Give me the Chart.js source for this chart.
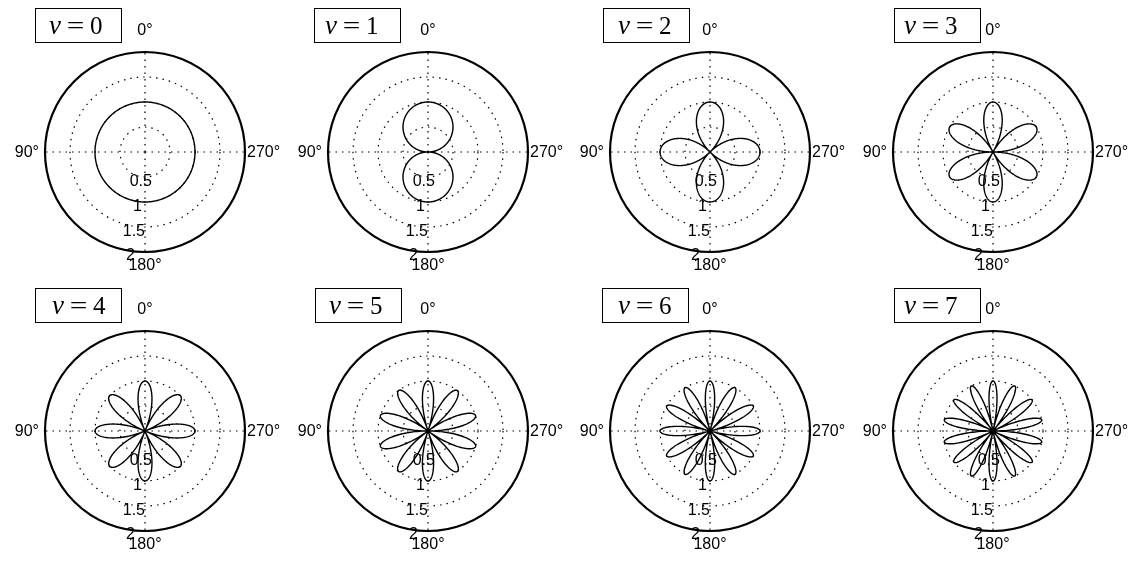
<!DOCTYPE html>
<html>
<head>
<meta charset="utf-8">
<script src="https://cdn.jsdelivr.net/npm/chart.js@4/dist/chart.umd.min.js"></script>
<style>
  html, body { margin: 0; padding: 0; background: #fff; }
  body { width: 1133px; height: 561px; position: relative; overflow: hidden; }
  .panel { position: absolute; width: 290px; height: 270px; }
  .tag {
    position: absolute; width: 84px; height: 33px; border: 1px solid #000;
    font-family: "Liberation Serif", "Times New Roman", serif; font-size: 25px;
    line-height: 33px; white-space: nowrap; color: #000; z-index: 2; box-sizing: content-box;
  }
  .tag .nu { font-style: italic; font-size: 27px; }
  .tag .eq { display: inline-block; width: 29px; text-align: center; transform: scaleX(1.25); }
</style>
</head>
<body>
<script>
// one polar panel per order nu; each curve is r = |cos(nu * theta)|
const nuValues = [0, 1, 2, 3, 4, 5, 6, 7];
const radialMax = 2;
const radialStep = 0.5;
const angleTickDegrees = [0, 90, 180, 270];
const angleTickLabels = ['0°', '90°', '180°', '270°'];
const samplesPerTurn = 720;

// theta runs counter-clockwise from the top; the radar scale walks clockwise
const thetaDegrees = [];
for (let i = 0; i < samplesPerTurn; i++) {
    thetaDegrees.push(((samplesPerTurn - i) * 360 / samplesPerTurn) % 360);
}

// panel geometry
const centerX = [145, 428, 710, 993];
const centerY = [152, 431];
const tagLeft = [35, 314, 603, 894, 35, 315, 602, 894];
const tagPad = [13, 10, 14, 9, 16, 13, 15, 9];
const tagTop = [8, 288];

// where the angle labels sit relative to the outer ring
const anglePlacement = [
    { gap: 21, align: 'center', dy: 0 },    // 0°
    { gap: 6, align: 'right', dy: 1 },      // 90°
    { gap: 14, align: 'center', dy: 0 },    // 180°
    { gap: 2, align: 'left', dy: 1 }        // 270°
];
const radialLabelTilt = 8 * Math.PI / 180;

const dotted = [1.5, 5];

const polarLabels = {
    id: 'polarLabels',
    afterDatasetsDraw(chart) {
        const r = chart.scales.r;
        const ctx = chart.ctx;
        ctx.save();
        ctx.font = '16px "Liberation Sans", Arial, sans-serif';
        ctx.fillStyle = '#000';
        ctx.textBaseline = 'middle';

        chart.data.labels.forEach((deg, i) => {
            const k = angleTickDegrees.indexOf(deg);
            if (k < 0) return;
            const place = anglePlacement[k];
            const p = r.getPointPosition(i, r.drawingArea + place.gap);
            ctx.textAlign = place.align;
            ctx.fillText(angleTickLabels[k], p.x, p.y + place.dy);
        });

        // radial tick labels run down the 180° spoke, tilted a little to the left
        ctx.textAlign = 'center';
        r.ticks.forEach(t => {
            if (t.value <= 0) return;
            const d = r.getDistanceFromCenterForValue(t.value) + 5;
            ctx.fillText(t.label, r.xCenter - d * Math.sin(radialLabelTilt), r.yCenter + d * Math.cos(radialLabelTilt));
        });
        ctx.restore();
    }
};

nuValues.forEach((nu, n) => {
    const row = Math.floor(n / 4);
    const col = n % 4;

    const tag = document.createElement('div');
    tag.className = 'tag';
    tag.style.left = tagLeft[n] + 'px';
    tag.style.top = tagTop[row] + 'px';
    tag.style.paddingLeft = tagPad[n] + 'px';
    tag.style.width = (85 - tagPad[n]) + 'px';
    tag.innerHTML = '<span class="nu">ν</span><span class="eq">=</span><span class="num">' + nu + '</span>';
    document.body.appendChild(tag);

    const box = document.createElement('div');
    box.className = 'panel';
    box.style.left = (centerX[col] - 145) + 'px';
    box.style.top = (centerY[row] - 140) + 'px';
    const canvas = document.createElement('canvas');
    box.appendChild(canvas);
    document.body.appendChild(box);

    const values = thetaDegrees.map(deg => Math.abs(Math.cos(nu * deg * Math.PI / 180)));

    new Chart(canvas, {
        type: 'radar',
        data: {
            labels: thetaDegrees,
            datasets: [{
                data: values,
                borderColor: '#000',
                borderWidth: 1.4,
                fill: false,
                pointRadius: 0,
                tension: 0
            }]
        },
        options: {
            responsive: true,
            maintainAspectRatio: false,
            animation: false,
            events: [],
            layout: { padding: { left: 45, right: 45, top: 40, bottom: 30 } },
            plugins: { legend: { display: false }, tooltip: { enabled: false } },
            scales: {
                r: {
                    min: 0,
                    max: radialMax,
                    ticks: { stepSize: radialStep, display: false, callback: v => String(v) },
                    pointLabels: { display: false },
                    grid: {
                        circular: true,
                        color: '#000',
                        lineWidth: ctx => ctx.tick && ctx.tick.value === radialMax ? 2.2 : 1.2
                    },
                    border: {
                        dash: ctx => ctx.tick && ctx.tick.value === radialMax ? [] : dotted
                    },
                    angleLines: {
                        color: '#000',
                        lineWidth: ctx => angleTickDegrees.includes(thetaDegrees[ctx.index]) ? 1.2 : 0,
                        borderDash: dotted
                    }
                }
            }
        },
        plugins: [polarLabels]
    });
});
</script>
</body>
</html>
